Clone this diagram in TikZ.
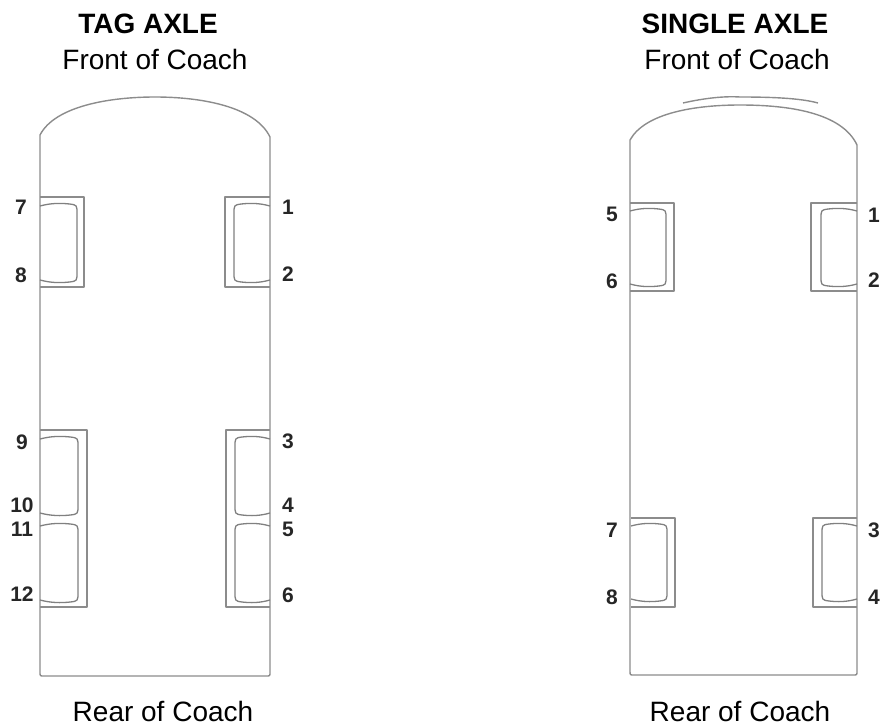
\documentclass[tikz,border=0pt]{standalone}
\usepackage{fontspec}
\setmainfont{Liberation Sans}
\usepackage{tikz}
\usetikzlibrary{calc}
\tikzset{
    coachline/.style={draw=black!45, line width=1.4pt, line join=round},
    wellline/.style={draw=black!50, line width=1.3pt, line join=round},
    heading/.style={font=\fontsize{28}{30}\selectfont\bfseries, inner sep=0pt},
    caption/.style={font=\fontsize{28}{30}\selectfont, inner sep=0pt},
    wheelno/.style={font=\fontsize{21}{23}\selectfont\bfseries, inner sep=0pt, text=black!85}
}
% one wheel: side of coach, inner side of the rounded opening, top and bottom
\newcommand{\wheelwell}[4]{
    \draw[wellline] (#1,#3+3) .. controls ($(#1,#3)!0.3!(#2,#3)$) and ($(#1,#3)!0.55!(#2,#3)$) .. ($(#2,#3+1)!0.2!(#1,#3+1)$)
        .. controls (#2,#3+2) .. (#2,#3+11) -- (#2,#4-11)
        .. controls (#2,#4-2) .. ($(#2,#4-1)!0.2!(#1,#4-1)$)
        .. controls ($(#1,#4)!0.55!(#2,#4)$) and ($(#1,#4)!0.3!(#2,#4)$) .. (#1,#4-3);
}
\begin{document}
\begin{tikzpicture}[x=1pt, y=-1pt]
    \useasboundingbox (0,0) rectangle (882,727);
    % tag axle coach
    \draw[coachline] (40,135) .. controls (55,106) and (110,97) .. (155,97)
        .. controls (200,97) and (255,106) .. (270,137) -- (270,672)
        .. controls (270,676) .. (266,676) -- (44,676) .. controls (40,676) .. (40,672) -- cycle;
    \draw[coachline] (40,197) -- (84,197) -- (84,287) -- (40,287);
    \draw[coachline] (270,197) -- (225,197) -- (225,287) -- (270,287);
    \draw[coachline] (40,430) -- (87,430) -- (87,607) -- (40,607);
    \draw[coachline] (270,430) -- (226,430) -- (226,607) -- (270,607);
    \wheelwell{40}{77}{203}{283}
    \wheelwell{270}{234}{203}{283}
    \wheelwell{40}{78}{436}{516}
    \wheelwell{40}{78}{523}{603}
    \wheelwell{270}{235}{436}{516}
    \wheelwell{270}{235}{523}{603}
    % single axle coach
    \draw[coachline] (630,140) .. controls (645,113) and (695,105) .. (740,105)
        .. controls (790,105) and (842,113) .. (857,145) -- (857,671)
        .. controls (857,675) .. (853,675) -- (634,675) .. controls (630,675) .. (630,671) -- cycle;
    \draw[coachline] (683,103) .. controls (705,98) and (725,96) .. (740,97) .. controls (770,97) and (800,98) .. (818,103);
    \draw[coachline] (630,203) -- (674,203) -- (674,291) -- (630,291);
    \draw[coachline] (857,203) -- (811,203) -- (811,291) -- (857,291);
    \draw[coachline] (631,518) -- (675,518) -- (675,607) -- (631,607);
    \draw[coachline] (857,518) -- (813,518) -- (813,607) -- (857,607);
    \wheelwell{630}{666}{208}{287}
    \wheelwell{857}{821}{208}{287}
    \wheelwell{631}{667}{523}{602}
    \wheelwell{857}{822}{523}{602}
    % headings
    \node[heading] (tagtitle) at (148,24) {TAG AXLE};
    \node[caption] (tagfront) at (155,59) {Front of Coach};
    \node[caption] (tagrear) at (163,711) {Rear of Coach};
    \node[heading] (singletitle) at (735,24) {SINGLE AXLE};
    \node[caption] (singlefront) at (737,59) {Front of Coach};
    \node[caption] (singlerear) at (740,711) {Rear of Coach};
    % wheel numbers
    \foreach \no/\xpos/\ypos in {7/21/207, 8/21/275, 9/22/442, 10/22/505, 11/22/529, 12/22/594,
        1/288/207, 2/288/274, 3/288/441, 4/288/505, 5/288/529, 6/288/595}
        \node[wheelno] (tag\no) at (\xpos,\ypos) {\no};
    \foreach \no/\xpos/\ypos in {5/612/214, 6/612/281, 7/612/530, 8/612/597,
        1/874/215, 2/874/280, 3/874/530, 4/874/597}
        \node[wheelno] (single\no) at (\xpos,\ypos) {\no};
\end{tikzpicture}
\end{document}
